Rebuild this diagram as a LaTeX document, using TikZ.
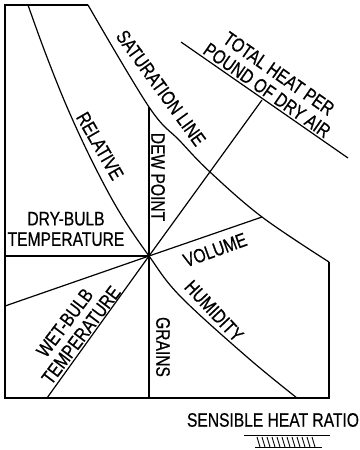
\documentclass[tikz,border=0pt]{standalone}
\usepackage{fontspec}
\setmainfont[FakeStretch=0.8,FakeBold=0.6]{Liberation Sans}
\begin{document}
\begin{tikzpicture}[x=1pt,y=-1pt,line width=1.2pt,
  lbl/.style={font=\fontsize{19.5}{20.5}\selectfont,inner sep=0pt,align=center},
  ln/.style={line width=1.2pt},
  hatchln/.style={line width=0.9pt}]
\useasboundingbox (0,0) rectangle (359,450);
% key points
\coordinate (C) at (149,256);
\coordinate (TL) at (5,5);
\coordinate (TS) at (88,5);
\coordinate (BL) at (5,398);
\coordinate (BR) at (329,398);
\coordinate (RS) at (329,262);
\coordinate (DP) at (149,107);
\coordinate (TH) at (210,172);
\coordinate (VL) at (262,217);
\coordinate (DB) at (5,256);
\coordinate (GR) at (149,398);
\coordinate (WB1) at (5,306);
\coordinate (WB2) at (47,398);
\coordinate (RT) at (28,5);
\coordinate (RB) at (297,398);
\coordinate (HA) at (181,42);
\coordinate (HB) at (348,158);
\coordinate (HE) at (262,100);
% outline
\draw[ln] (TS) -- (TL) -- (BL) -- (BR) -- (RS);
% saturation line
\draw[ln] plot[smooth,tension=0.6] coordinates {(TS) (DP) (180,141) (TH) (VL) (RS)};
% relative humidity curve
\draw[ln] plot[smooth,tension=0.6] coordinates {(RT) (45,52) (67,107) (93,163) (120,213) (C) (180,296) (247,357) (RB)};
% straight scales
\draw[ln] (DB) -- (C);
\draw[ln] (DP) -- (C) -- (GR);
\draw[ln] (C) -- (HE);
\draw[ln] (C) -- (VL);
\draw[ln] (C) -- (WB1);
\draw[ln] (C) -- (WB2);
\draw[ln] (HA) -- (HB);
% labels
\node[lbl,rotate=-54] (satl) at (161,88) {SATURATION LINE};
\node[lbl,rotate=-60] (rel) at (100,146) {RELATIVE};
\node[lbl,rotate=-90] (dew) at (158,177) {DEW POINT};
\node[lbl] (dry) at (66,229) {DRY-BULB\\TEMPERATURE};
\node[lbl,rotate=20] (vol) at (215,250) {VOLUME};
\node[lbl,rotate=-47] (hum) at (214,311) {HUMIDITY};
\node[lbl,rotate=-90] (gra) at (163,347) {GRAINS};
\node[lbl,rotate=53] (wet) at (73,329) {WET-BULB\\TEMPERATURE};
\node[lbl,rotate=-35] (tot) at (273,82) {TOTAL HEAT PER\\POUND OF DRY AIR};
\node[lbl] (shr) at (273,420) {SENSIBLE HEAT RATIO};
% hatch symbol
\coordinate (HT1) at (244,435);
\coordinate (HT2) at (330,435);
\coordinate (HB1) at (255,447);
\coordinate (HB2) at (322,447);
\draw[hatchln] (HT1) -- (HT2);
\draw[hatchln] (HB1) -- (HB2);
\foreach \x in {257,262,...,312} {
  \draw[hatchln] (\x,437) -- ++(3,10);
}
\end{tikzpicture}
\end{document}
